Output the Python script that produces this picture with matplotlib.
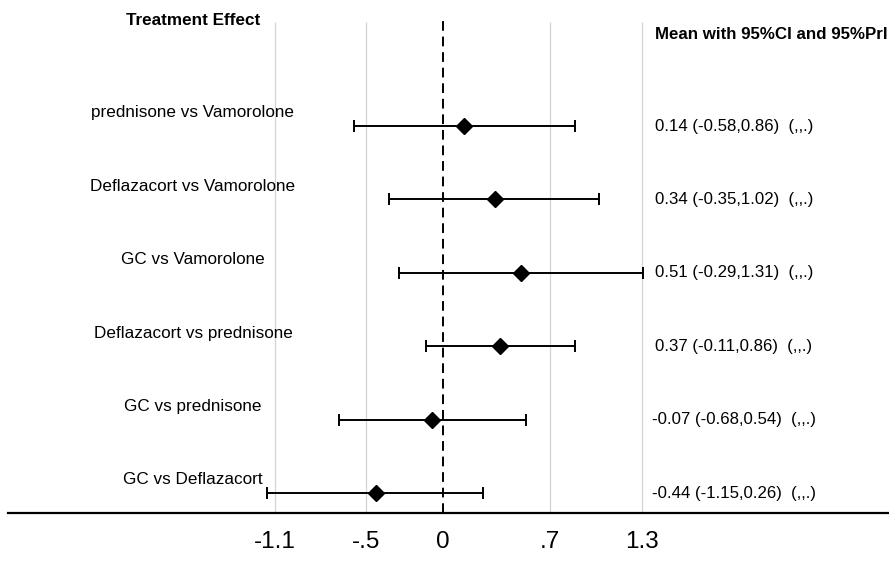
import matplotlib.pyplot as plt

# comparisons, top to bottom
labels = ['prednisone vs Vamorolone', 'Deflazacort vs Vamorolone', 'GC vs Vamorolone',
          'Deflazacort vs prednisone', 'GC vs prednisone', 'GC vs Deflazacort']
means = [0.14, 0.34, 0.51, 0.37, -0.07, -0.44]
lower = [-0.58, -0.35, -0.29, -0.11, -0.68, -1.15]
upper = [0.86, 1.02, 1.31, 0.86, 0.54, 0.26]

ticks = [-1.1, -0.5, 0, 0.7, 1.3]
tick_labels = ['-1.1', '-.5', '0', '.7', '1.3']

plt.rcParams['font.family'] = ['Liberation Sans', 'DejaVu Sans']

fig = plt.figure(figsize=(8.89, 5.72), dpi=100)
ax = fig.add_axes([8 / 889, 59 / 572, 881 / 889, 513 / 572])
ax.set_xlim(-2.843, 2.915)
ax.set_ylim(0.728, 7.717)

ys = [6 - i for i in range(len(labels))]

# grid lines and reference line
ax.vlines([t for t in ticks if t != 0], 0.728, 7.417, color='#d4d4d4', lw=0.9, zorder=0)
ax.vlines(0, 0.728, 7.45, color='black', lw=1.4, linestyles=(0, (5, 3)), zorder=1)

# estimates with intervals
xerr = [[m - l for m, l in zip(means, lower)], [u - m for m, u in zip(means, upper)]]
ax.errorbar(means, ys, xerr=xerr, fmt='D', color='black', ms=8.5, lw=1.4,
            capsize=4, capthick=1.4, zorder=3)

for y, lab, m, l, u in zip(ys, labels, means, lower, upper):
    ax.text(-1.634, y + 0.18, lab, ha='center', va='center', fontsize=12.3)
    ax.text(1.90, y, f'{m:.2f} ({l:.2f},{u:.2f})  (,,.)', ha='center', va='center', fontsize=12.1)

ax.text(-1.634, 7.44, 'Treatment Effect', ha='center', va='center', fontsize=12.3, fontweight='bold')
ax.text(1.386, 7.25, 'Mean with 95%CI and 95%PrI', ha='left', va='center', fontsize=12.2, fontweight='bold',
        clip_on=False)

ax.set_xticks(ticks)
ax.set_xticklabels(tick_labels, fontsize=17.5)
ax.tick_params(axis='x', length=0, pad=13)
ax.set_yticks([])
for s in ['top', 'left', 'right']:
    ax.spines[s].set_visible(False)
ax.spines['bottom'].set_linewidth(1.6)

fig.savefig('out.png', dpi=100)
